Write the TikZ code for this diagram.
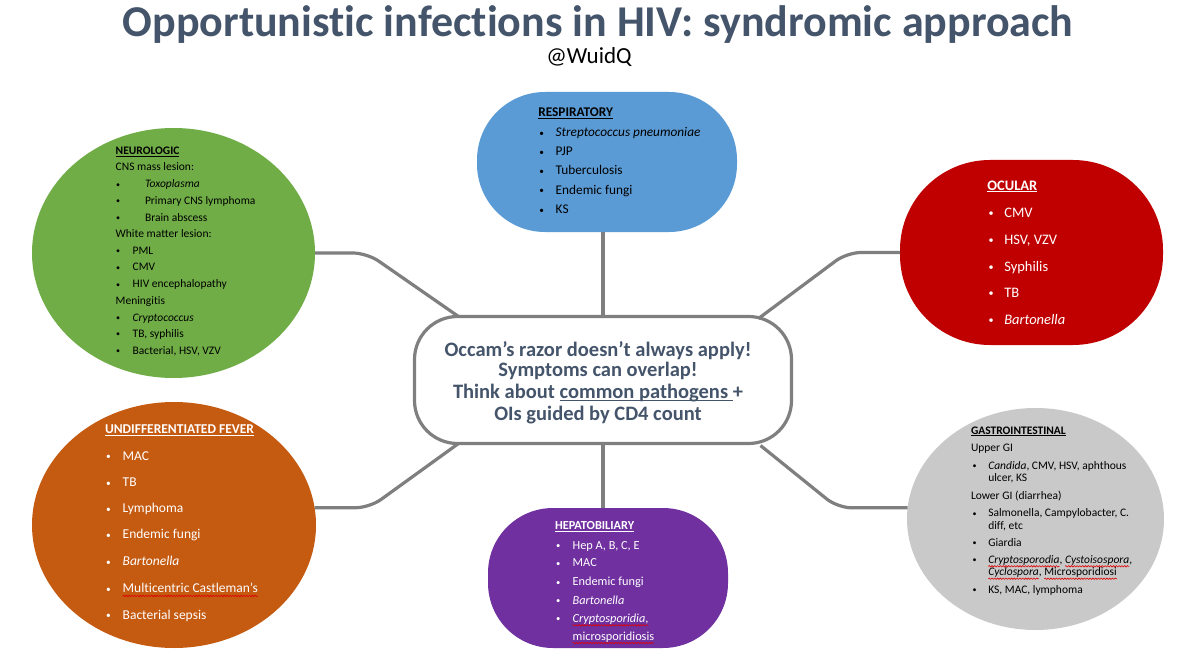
\documentclass[tikz,border=0pt]{standalone}
\usepackage{fontspec}
\setmainfont{Carlito}[Ligatures=NoCommon]
\usetikzlibrary{shapes.geometric,calc,decorations.pathmorphing}
\definecolor{tgreen}{HTML}{70AD47}
\definecolor{tblue}{HTML}{5B9BD5}
\definecolor{tred}{HTML}{C00000}
\definecolor{torange}{HTML}{C55A11}
\definecolor{tpurple}{HTML}{7030A0}
\definecolor{tgray}{HTML}{C9C9C9}
\definecolor{tline}{HTML}{7F7F7F}
\definecolor{ttitle}{HTML}{44546A}
\definecolor{wavered}{HTML}{E00000}
\newcommand\bu[1]{\makebox[#1pt][l]{\raisebox{0.6pt}{\scalebox{0.7}{\textbullet}}}}
\newlength\ulw
\newcommand\ul[1]{\settowidth\ulw{#1}\rlap{\rule[-2.2pt]{\ulw}{0.9pt}}#1}
\begin{document}
\begin{tikzpicture}[x=1pt,y=-1pt,
  conn/.style={draw=tline,line width=3.2pt,rounded corners=14pt},
  blob/.style={draw=none,inner sep=0pt,outer sep=0pt},
  tl/.style={anchor=base west,inner sep=0pt,outer sep=0pt},
  neut/.style={tl,text=black,font=\fontsize{11.5}{14}\selectfont},
  rest/.style={tl,text=black,font=\fontsize{13.3}{15}\selectfont},
  ocut/.style={tl,text=white,font=\fontsize{14.5}{17}\selectfont},
  fevt/.style={tl,text=white,font=\fontsize{13.5}{15}\selectfont},
  hept/.style={tl,text=white,font=\fontsize{12.3}{15}\selectfont},
  git/.style={tl,text=black,font=\fontsize{11.5}{14}\selectfont},
  ctrt/.style={anchor=base,inner sep=0pt,text=ttitle,font=\fontsize{20.5}{22}\selectfont\bfseries},
  wave/.style={draw=wavered,line width=0.6pt,decorate,decoration={snake,amplitude=0.7pt,segment length=2.8pt}}]
\useasboundingbox (0,0) rectangle (1200,658);
\fill[white] (0,0) rectangle (1200,658);

% title
\node[anchor=base,inner sep=0pt,text=ttitle,font=\fontsize{44}{48}\selectfont\bfseries] (title) at (598,37) {Opportunistic infections in HIV: syndromic approach};
\node[anchor=base,inner sep=0pt,font=\fontsize{23}{25}\selectfont] (handle) at (589,63.3) {@WuidQ};

% shapes
\node[blob,ellipse,fill=tgreen,minimum width=283,minimum height=250] (neu) at (173.5,253) {};
\node[blob,rectangle,rounded corners=68,fill=tblue,minimum width=260,minimum height=140] (res) at (607,162) {};
\node[blob,rectangle,rounded corners=90,fill=tred,minimum width=263,minimum height=185] (ocu) at (1031.5,252.5) {};
\node[blob,ellipse,fill=torange,minimum width=284,minimum height=246] (fev) at (174,525) {};
\node[blob,rectangle,rounded corners=65,fill=tpurple,minimum width=240,minimum height=140] (hep) at (608,578) {};
\node[blob,ellipse,fill=tgray,minimum width=257,minimum height=222] (gi) at (1035.5,519) {};
\node[draw=tline,line width=3.2pt,fill=white,rectangle,rounded corners=43,minimum width=377,minimum height=127,inner sep=0pt,outer sep=0pt] (ctr) at (603,380) {};

% connectors
\draw[conn] (neu.east) -- ++(52,0) -- ($(ctr.north west)+(44,0)$);
\draw[conn] (ocu.west) -- ++(-53,0) -- ($(ctr.north east)+(-33,2)$);
\draw[conn] (fev.7) -- ++(55,0) -- ($(ctr.south west)+(44,0)$);
\draw[conn] (gi.175) -- ++(-70,0) -- ($(ctr.south east)+(-31,2)$);
\draw[conn] (ctr.north) -- (ctr.north |- res.south);
\draw[conn] (ctr.south) -- (ctr.south |- hep.north);

% center text
\node[ctrt] (c1) at (598,356) {Occam’s razor doesn’t always apply!};
\node[ctrt] (c2) at (598,376.7) {Symptoms can overlap!};
\node[ctrt] (c3) at (598,398.3) {Think about \ul{common pathogens\ }+};
\node[ctrt] (c4) at (598,420) {OIs guided by CD4 count};

% neurologic
\node[neut] (n1) at (115.7,154.3) {\textbf{\ul{NEUROLOGIC}}};
\node[neut] (n2) at (115.7,170.7) {CNS mass lesion:};
\node[neut] (n3) at (116,187.7) {\bu{29}\textit{Toxoplasma}};
\node[neut] (n4) at (116,204.3) {\bu{29}Primary CNS lymphoma};
\node[neut] (n5) at (116,221) {\bu{29}Brain abscess};
\node[neut] (n6) at (115.7,237.7) {White matter lesion:};
\node[neut] (n7) at (116,254.5) {\bu{16.7}PML};
\node[neut] (n8) at (116,270.7) {\bu{16.7}CMV};
\node[neut] (n9) at (116,287.7) {\bu{16.7}HIV encephalopathy};
\node[neut] (n10) at (115.7,304.3) {Meningitis};
\node[neut] (n11) at (116,321) {\bu{16.7}\textit{Cryptococcus}};
\node[neut] (n12) at (116,337.3) {\bu{16.7}TB, syphilis};
\node[neut] (n13) at (116,354) {\bu{16.7}Bacterial, HSV, VZV};

% respiratory
\node[rest] (r1) at (538.3,116.7) {\textbf{\ul{RESPIRATORY}}};
\node[rest] (r2) at (539.3,136.7) {\bu{16.4}\textit{Streptococcus pneumoniae}};
\node[rest] (r3) at (539.3,156) {\bu{16.4}PJP};
\node[rest] (r4) at (539.3,175) {\bu{16.4}Tuberculosis};
\node[rest] (r5) at (539.3,194.3) {\bu{16.4}Endemic fungi};
\node[rest] (r6) at (539.3,214) {\bu{16.4}KS};

% ocular
\node[ocut] (o1) at (987.3,190) {\textbf{\ul{OCULAR}}};
\node[ocut] (o2) at (988.7,217.3) {\bu{15.6}CMV};
\node[ocut] (o3) at (988.7,244) {\bu{15.6}HSV, VZV};
\node[ocut] (o4) at (988.7,271) {\bu{15.6}Syphilis};
\node[ocut] (o5) at (988.7,297.3) {\bu{15.6}TB};
\node[ocut] (o6) at (988.7,324.3) {\bu{15.6}\textit{Bartonella}};

% fever
\node[fevt] (f1) at (105,433.3) {\textbf{\ul{UNDIFFERENTIATED FEVER}}};
\node[fevt] (f2) at (106,460) {\bu{16.7}MAC};
\node[fevt] (f3) at (106,486.7) {\bu{16.7}TB};
\node[fevt] (f4) at (106,512.7) {\bu{16.7}Lymphoma};
\node[fevt] (f5) at (106,538.7) {\bu{16.7}Endemic fungi};
\node[fevt] (f6) at (106,565.7) {\bu{16.7}\textit{Bartonella}};
\node[fevt] (f7) at (106,592.7) {\bu{16.7}Multicentric Castleman’s};
\node[fevt] (f8) at (106,619) {\bu{16.7}Bacterial sepsis};
\draw[wave] ($(f7.base west)+(16.7,3.2)$) -- ($(f7.base east)+(0,3.2)$);

% hepatobiliary
\node[hept] (h1) at (555,529.3) {\textbf{\ul{HEPATOBILIARY}}};
\node[hept] (h2) at (556,549) {\bu{16.7}Hep A, B, C, E};
\node[hept] (h3) at (556,566.7) {\bu{16.7}MAC};
\node[hept] (h4) at (556,585.7) {\bu{16.7}Endemic fungi};
\node[hept] (h5) at (556,604) {\bu{16.7}\textit{Bartonella}};
\node[hept] (h6) at (556,622.3) {\bu{16.7}\textit{Cryptosporidia},};
\node[hept] (h7) at (572.7,640) {microsporidiosis};
\draw[wave] ($(h6.base west)+(16.7,3)$) -- ($(h6.base east)+(0,3)$);
\draw[wave] ($(h7.base west)+(0,3)$) -- ($(h7.base east)+(0,3)$);

% gastrointestinal
\node[git] (g1) at (971,434) {\textbf{\ul{GASTROINTESTINAL}}};
\node[git] (g2) at (971,451.7) {Upper GI};
\node[git] (g3) at (972.7,469.3) {\bu{15.6}\textit{Candida}, CMV, HSV, aphthous};
\node[git] (g4) at (988.3,481.7) {ulcer, KS};
\node[git] (g5) at (971,499.3) {Lower GI (diarrhea)};
\node[git] (g6) at (972.7,516.7) {\bu{15.6}Salmonella, Campylobacter, C.};
\node[git] (g7) at (988.3,529) {diff, etc};
\node[git] (g8) at (972.7,546) {\bu{15.6}Giardia};
\node[git] (g9a) at (972.7,563.3) {\bu{15.6}\textit{Cryptosporodia}};
\node[git] (g9b) at (g9a.base east) {,\ \null};
\node[git] (g9c) at (g9b.base east) {\textit{Cystoisospora}};
\node[git] (g9d) at (g9c.base east) {,};
\node[git] (g10a) at (988.3,575.7) {\textit{Cyclospora}};
\node[git] (g10b) at (g10a.base east) {,\ \null};
\node[git] (g10c) at (g10b.base east) {Microsporidiosi};
\node[git] (g11) at (972.7,593.3) {\bu{15.6}KS, MAC, lymphoma};
\draw[wave] ($(g9a.base west)+(15.6,3)$) -- ($(g9a.base east)+(0,3)$);
\draw[wave] ($(g9c.base west)+(0,3)$) -- ($(g9c.base east)+(0,3)$);
\draw[wave] ($(g10a.base west)+(0,3)$) -- ($(g10a.base east)+(0,3)$);
\draw[wave] ($(g10c.base west)+(0,3)$) -- ($(g10c.base east)+(0,3)$);
\end{tikzpicture}
\end{document}
